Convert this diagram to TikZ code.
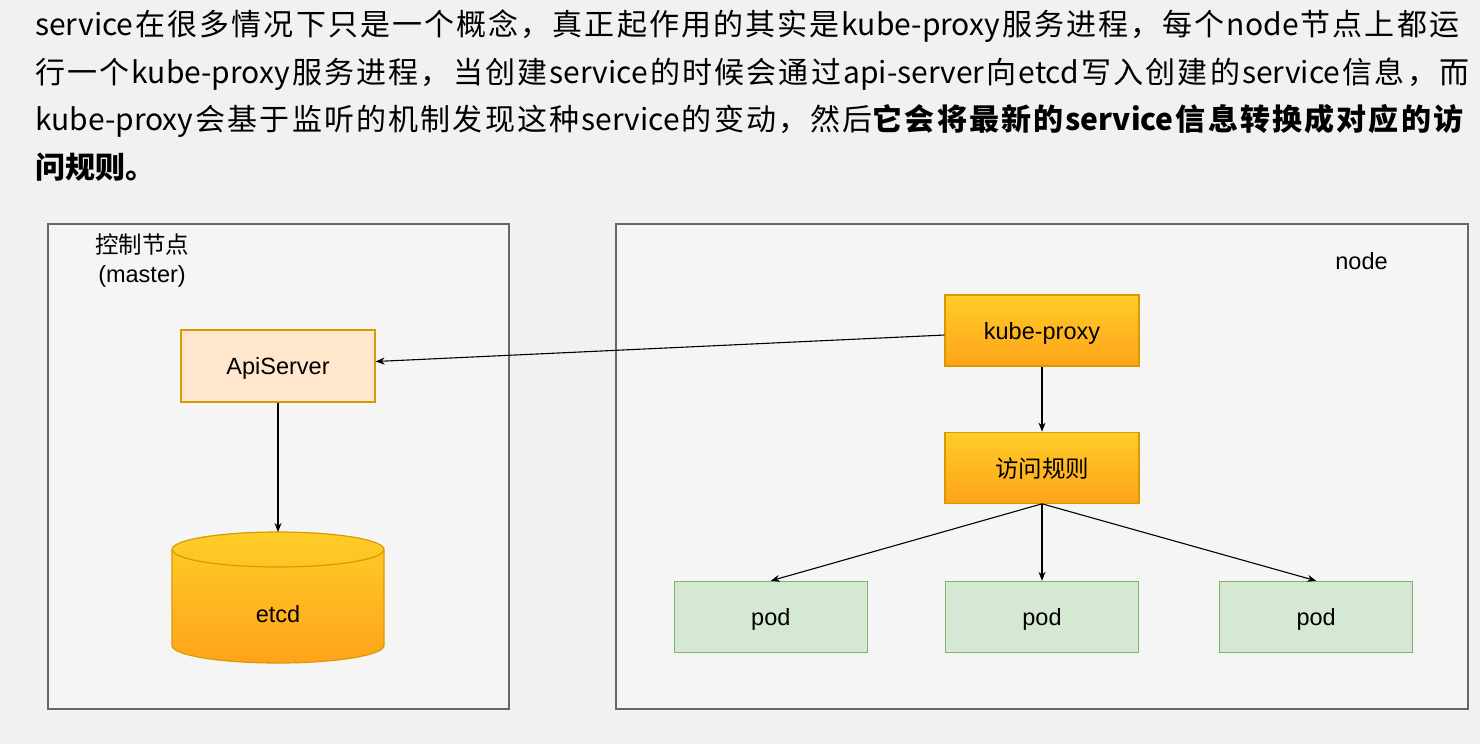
\documentclass[tikz,border=0pt]{standalone}
\usepackage{fontspec}
\setmainfont{Liberation Sans}
\newfontfamily\cjk{Noto Sans CJK SC}
\usetikzlibrary{arrows.meta,positioning,calc}

\definecolor{bgcol}{HTML}{F1F1F1}
\definecolor{frameline}{HTML}{666666}
\definecolor{framefill}{HTML}{F5F5F5}
\definecolor{apiline}{HTML}{D79B00}
\definecolor{apifill}{HTML}{FFE6CC}
\definecolor{gradtop}{HTML}{FFCD28}
\definecolor{gradbot}{HTML}{FFA31A}
\definecolor{podline}{HTML}{82B366}
\definecolor{podfill}{HTML}{D5E8D4}

% glue between CJK characters, so that full lines can be spread
\newXeTeXintercharclass\cjkcls
\count255="4E00
\loop
  \XeTeXcharclass\count255=\cjkcls
  \ifnum\count255<"9FFF \advance\count255 by 1
\repeat
\XeTeXcharclass"FF0C=\cjkcls
\XeTeXcharclass"3002=\cjkcls
\XeTeXinterchartokenstate=1
\newcommand\cjkglue{\hskip 0pt plus 1fil}
\XeTeXinterchartoks\cjkcls\cjkcls={\cjkglue}
\XeTeXinterchartoks 0 \cjkcls={\cjkglue}
\XeTeXinterchartoks\cjkcls 0 ={\cjkglue}

\begin{document}
\begin{tikzpicture}[
    x=1pt, y=-1pt,
    every node/.style={font=\fontsize{23.5}{28}\selectfont},
    frame/.style={rectangle, draw=frameline, fill=framefill, line width=1.2pt, inner sep=0pt},
    apibox/.style={rectangle, draw=apiline, fill=apifill, minimum width=194pt, minimum height=72pt, line width=1.2pt, text depth=0pt},
    orangebox/.style={rectangle, draw=apiline, top color=gradtop, bottom color=gradbot, minimum width=194pt, minimum height=71pt, line width=1.2pt, text depth=0pt},
    podbox/.style={rectangle, draw=podline, fill=podfill, minimum width=193pt, minimum height=71pt, line width=1.2pt, text depth=0pt},
    arrow/.style={line width=1.1pt, -{Stealth[length=9pt, width=7pt]}},
    para/.style={anchor=base west, inner sep=0pt, font=\cjk\fontsize{30}{36}\selectfont}
]
    \useasboundingbox (0,0) rectangle (1480,744);
    \fill[bgcol] (0,0) rectangle (1480,744);

    % Text
    \node[para] (line1) at (35,35.5) {\hbox to 1424pt{service在很多情况下只是一个概念，真正起作用的其实是kube-proxy服务进程，每个node节点上都运}};
    \node[para] (line2) at (35,83) {\hbox to 1434pt{行一个kube-proxy服务进程，当创建service的时候会通过api-server向etcd写入创建的service信息，而}};
    \node[para] (line3) at (35,130.5) {\hbox to 1428pt{kube-proxy会基于监听的机制发现这种service的变动，然后{\bfseries 它会将最新的service信息转换成对应的访}}};
    \node[para] (line4) at (35,178) {\bfseries 问规则。};

    % Frames
    \node[frame, minimum width=461pt, minimum height=485pt] (master) at (278.5,466.5) {};
    \node[frame, minimum width=852pt, minimum height=485pt] (worker) at (1042,466.5) {};
    \node[align=center, font=\cjk\fontsize{23.5}{29}\selectfont] (mastertitle) at (142,260.5) {控制节点\\{\rmfamily (master)}};
    \node (workertitle) at (1361.5,261) {node};

    % Master
    \node[apibox] (api) at (278,366) {ApiServer};
    \path[top color=gradtop, bottom color=gradbot, draw=apiline, line width=1.2pt]
        (172,549.5) -- (172,645.5) arc[start angle=180, end angle=360, x radius=106pt, y radius=17.5pt]
        -- (384,549.5) arc[start angle=0, end angle=180, x radius=106pt, y radius=17.5pt] -- cycle;
    \draw[apiline, line width=1.2pt] (172,549.5) arc[start angle=180, end angle=360, x radius=106pt, y radius=17.5pt];
    \node (etcd) at (278,614) {etcd};
    \coordinate (etcdtop) at (278,532);

    % Node
    \node[orangebox] (proxy) at (1042,330.5) {kube-proxy};
    \node[orangebox, below=65pt of proxy] (rule) {{\cjk 访问规则}};
    \node[podbox, below=77pt of rule] (pod2) {pod};
    \node[podbox, left=77pt of pod2] (pod1) {pod};
    \node[podbox, right=80pt of pod2] (pod3) {pod};

    % Arrows
    \draw[arrow] (proxy) -- (api);
    \draw[arrow] (api) -- (etcdtop);
    \draw[arrow] (proxy) -- (rule);
    \draw[arrow] (rule.south) -- (pod1.north);
    \draw[arrow] (rule.south) -- (pod2.north);
    \draw[arrow] (rule.south) -- (pod3.north);

\end{tikzpicture}
\end{document}
